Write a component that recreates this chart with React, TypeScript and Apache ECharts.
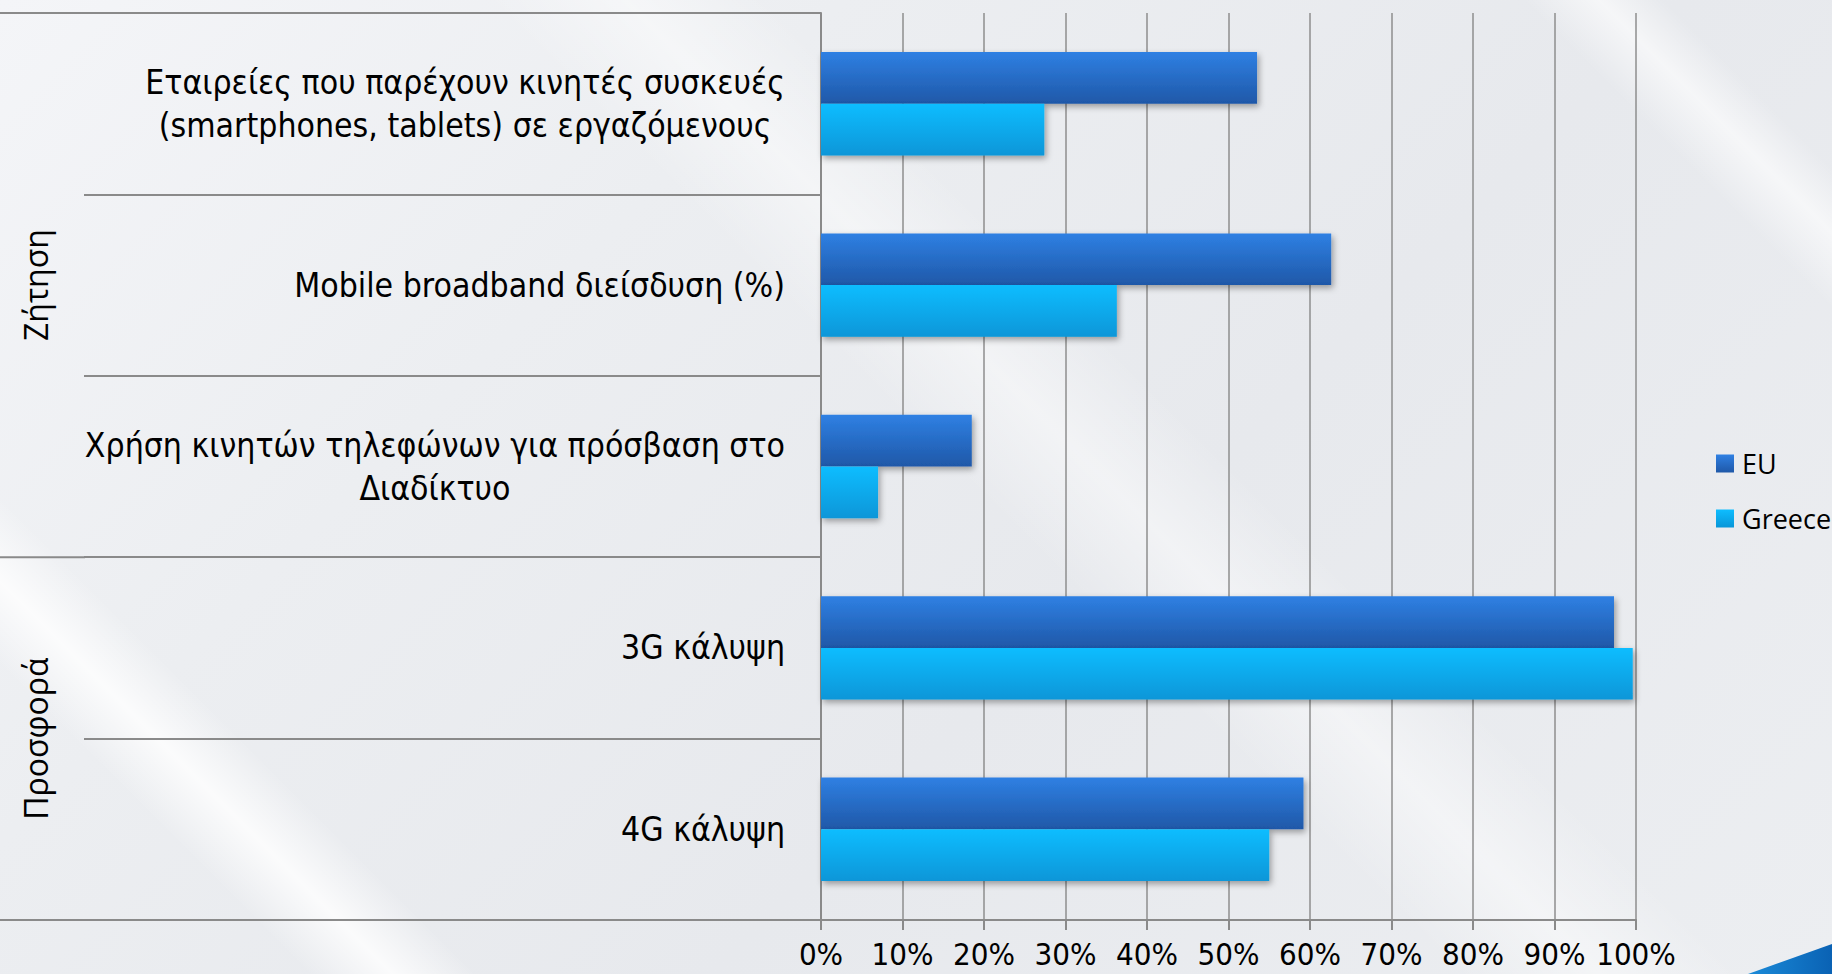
import React, { useEffect, useRef } from "react";
import * as echarts from "echarts";

const categories = [
  "Εταιρείες που παρέχουν κινητές συσκευές\n(smartphones, tablets) σε εργαζόμενους",
  "Mobile broadband διείσδυση (%)",
  "Χρήση κινητών τηλεφώνων για πρόσβαση στο\nΔιαδίκτυο",
  "3G κάλυψη",
  "4G κάλυψη",
];
const euValues = [53.5, 62.6, 18.5, 97.3, 59.2];
const greeceValues = [27.4, 36.3, 7.0, 99.6, 55.0];
const groupNames = ["Ζήτηση", "Προσφορά"];
const groupSizes = [3, 2];
const seriesNames = ["EU", "Greece"];
const xMin = 0;
const xMax = 100;
const xStep = 10;

const W = 1832;
const H = 974;
const GRID_LEFT = 821;
const GRID_TOP = 13;
const GRID_W = 815;
const GRID_H = 907;
const OUTER_X = 84;
const LABEL_FONT = "'Liberation Sans Narrow', 'DejaVu Sans Condensed', 'Noto Sans', sans-serif";
const UI_FONT = "'Open Sans', 'Noto Sans', sans-serif";
const LINE = "#8a8a8a";

export default function App() {
  const ref = useRef<HTMLDivElement>(null);
  useEffect(() => {
    if (!ref.current) return;
    const chart = echarts.init(ref.current, null, { renderer: "svg" });
    const n = categories.length;
    const band = GRID_H / n;
    const graphics: any[] = [];
    let cum = 0;
    const bounds = [0];
    groupSizes.forEach((s) => {
      cum += s;
      bounds.push(cum);
    });
    bounds.forEach((b) => {
      const y = GRID_TOP + b * band;
      graphics.push({
        type: "line",
        shape: { x1: 0, y1: y, x2: OUTER_X + 1, y2: y },
        style: { stroke: LINE, lineWidth: 2 },
        silent: true,
      });
    });
    groupNames.forEach((g, i) => {
      const cy = GRID_TOP + ((bounds[i] + bounds[i + 1]) / 2) * band;
      graphics.push({
        type: "text",
        x: 35,
        y: cy,
        rotation: Math.PI / 2,
        style: {
          text: g,
          fontSize: 32,
          fontFamily: UI_FONT,
          fill: "#000",
          textAlign: "center",
          textVerticalAlign: "middle",
        },
        silent: true,
      });
    });
    graphics.push({
      type: "polygon",
      shape: { points: [[1748, H], [W, 944], [W, H]] },
      style: {
        fill: new echarts.graphic.LinearGradient(0, 0, 1, 0, [
          { offset: 0, color: "#1a8ad8" },
          { offset: 1, color: "#0a62b4" },
        ]),
      },
      silent: true,
    });

    const grad = (a: string, b: string) =>
      new echarts.graphic.LinearGradient(0, 0, 0, 1, [
        { offset: 0, color: a },
        { offset: 1, color: b },
      ]);

    chart.setOption({
      animation: false,
      backgroundColor: "transparent",
      grid: { left: GRID_LEFT, top: GRID_TOP, width: GRID_W, height: GRID_H, containLabel: false },
      legend: {
        orient: "vertical",
        left: 1716,
        top: 450,
        padding: 0,
        itemWidth: 18,
        itemHeight: 18,
        itemGap: 28,
        icon: "rect",
        data: seriesNames,
        textStyle: { fontSize: 27, lineHeight: 26, fontFamily: UI_FONT, color: "#000", padding: [0, 0, 0, 3] },
      },
      xAxis: {
        type: "value",
        min: xMin,
        max: xMax,
        interval: xStep,
        axisLine: { show: true, lineStyle: { color: LINE, width: 2 } },
        axisTick: { show: true, length: 10, lineStyle: { color: LINE, width: 2 } },
        splitLine: { show: true, lineStyle: { color: "#8e8e8e", width: 1.5 } },
        axisLabel: {
          formatter: "{value}%",
          fontSize: 31,
          lineHeight: 31,
          fontFamily: LABEL_FONT,
          color: "#000",
          margin: 18,
        },
      },
      yAxis: {
        type: "category",
        inverse: true,
        data: categories,
        axisLine: { show: true, lineStyle: { color: LINE, width: 2 } },
        axisTick: { show: true, length: GRID_LEFT - OUTER_X, lineStyle: { color: LINE, width: 2 } },
        splitLine: { show: false },
        axisLabel: {
          margin: 36,
          align: "right",
          formatter: (v: string) => v.split("\n").map((l) => `{c|${l}}`).join("\n"),
          rich: {
            c: { align: "center", fontSize: 33.5, lineHeight: 43, fontFamily: LABEL_FONT, color: "#000" },
          },
        },
      },
      series: [
        {
          name: seriesNames[0],
          type: "bar",
          data: euValues,
          barGap: "0%",
          barCategoryGap: "43%",
          itemStyle: {
            color: grad("#2f80e3", "#1f58a8"),
            shadowColor: "rgba(0,0,0,0.35)",
            shadowBlur: 6,
            shadowOffsetX: 2,
            shadowOffsetY: 3,
          },
        },
        {
          name: seriesNames[1],
          type: "bar",
          data: greeceValues,
          barGap: "0%",
          barCategoryGap: "43%",
          itemStyle: {
            color: grad("#0ebdff", "#0896d8"),
            shadowColor: "rgba(0,0,0,0.35)",
            shadowBlur: 6,
            shadowOffsetX: 2,
            shadowOffsetY: 3,
          },
        },
      ],
      graphic: graphics,
    });
    return () => chart.dispose();
  }, []);

  const bg = [
    "linear-gradient(45deg, rgba(255,255,255,0) 11%, rgba(255,255,255,0.8) 14%, rgba(255,255,255,0) 17%)",
    "linear-gradient(45deg, rgba(255,255,255,0) 52%, rgba(255,255,255,0.45) 57%, rgba(255,255,255,0) 62%)",
    "linear-gradient(45deg, rgba(255,255,255,0) 89%, rgba(255,255,255,0.6) 91.7%, rgba(255,255,255,0) 94%)",
    "linear-gradient(135deg, #f4f5f8 0%, #eceef1 30%, #e7e9ed 60%, #eceef1 100%)",
  ].join(", ");

  return (
    <div
      style={{ position: "fixed", left: 0, top: 0, width: W, height: H, background: bg, overflow: "hidden" }}
    >
      <div ref={ref} style={{ width: W, height: H }} />
    </div>
  );
}
